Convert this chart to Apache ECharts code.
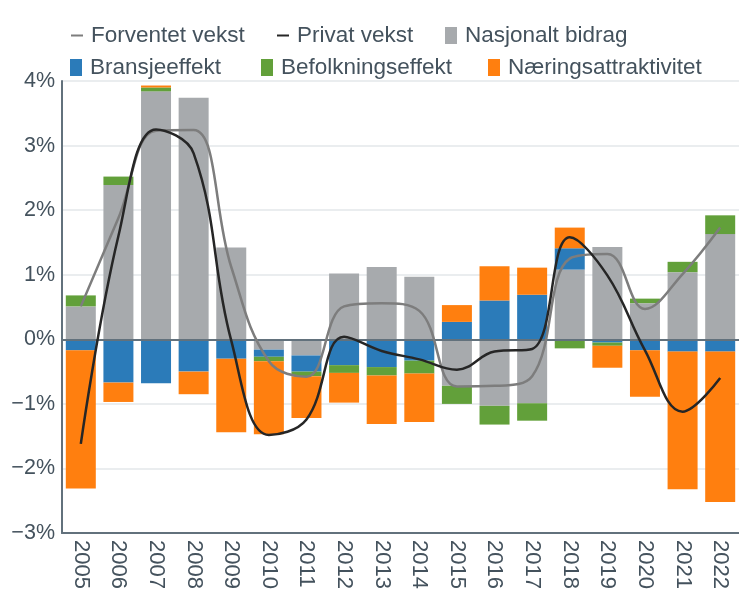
<!DOCTYPE html>
<html><head><meta charset="utf-8">
<script src="https://cdn.jsdelivr.net/npm/echarts@6/dist/echarts.min.js"></script>
<style>html,body{margin:0;padding:0;background:#fff}#c{width:739px;height:592px}</style>
</head><body><div id="c"></div>
<script>
const years = ['2005','2006','2007','2008','2009','2010','2011','2012','2013','2014','2015','2016','2017','2018','2019','2020','2021','2022'];
const nasjonalt = [0.51, 2.39, 3.84, 3.74, 1.42, -0.16, -0.25, 1.02, 1.12, 0.97, -0.72, -1.03, -0.99, 1.08, 1.43, 0.56, 1.04, 1.63];
const bransje = [-0.17, -0.67, -0.68, -0.50, -0.30, -0.11, -0.25, -0.40, -0.43, -0.33, 0.27, 0.60, 0.69, 0.33, -0.05, -0.17, -0.19, -0.19];
const befolkning = [0.17, 0.13, 0.06, 0, 0, -0.07, -0.07, -0.12, -0.13, -0.20, -0.28, -0.29, -0.27, -0.14, -0.05, 0.07, 0.16, 0.29];
const naering = [-2.14, -0.30, 0.03, -0.35, -1.14, -1.13, -0.65, -0.46, -0.75, -0.75, 0.26, 0.53, 0.42, 0.32, -0.34, -0.72, -2.13, -2.33];
const forventet = [0.51, 1.88, 3.23, 3.24, 1.12, -0.34, -0.58, 0.51, 0.56, 0.44, -0.73, -0.72, -0.57, 1.25, 1.32, 0.47, 1.01, 1.73];
const privat = [-1.62, 1.60, 3.25, 2.88, -0.02, -1.48, -1.24, 0.04, -0.18, -0.31, -0.47, -0.19, -0.15, 1.58, 0.99, -0.17, -1.12, -0.60];

const TXT = '#44525d';
const FONT = "'Liberation Sans', Arial, sans-serif";
const AX = '#62717c';
const C = {gray:'#a7aaad', blue:'#2b7bb9', green:'#62a03a', orange:'#ff7f0f', lgray:'#7d7d7d', black:'#262626'};

function lg(name, left, top, isLine) {
  const d = {name: name};
  if (isLine) d.itemStyle = {opacity: 0};
  else d.icon = 'rect';
  return {left: left, top: top, itemWidth: 12, itemHeight: 17, padding: 0,
    data: [d], selectedMode: false,
    textStyle: {fontSize: 22.5, color: TXT, fontFamily: FONT, padding: [0,0,0,3]}};
}

function bar(name, data, color) {
  return {name: name, type: 'bar', stack: 'total', data: data, barWidth: 30,
    itemStyle: {color: color}, emphasis: {disabled: true}};
}

const series = [
  bar('Nasjonalt bidrag', nasjonalt, C.gray),
  bar('Bransjeeffekt', bransje, C.blue),
  bar('Befolkningseffekt', befolkning, C.green),
  bar('Næringsattraktivitet', naering, C.orange),
  {name: 'Forventet vekst', type: 'line', data: forventet, smooth: 0.4, symbol: 'none', z: 5,
    lineStyle: {color: C.lgray, width: 2.5}, itemStyle: {color: C.lgray}},
  {name: 'Privat vekst', type: 'line', data: privat, smooth: 0.4, symbol: 'none', z: 6,
    lineStyle: {color: C.black, width: 2.5}, itemStyle: {color: C.black}}
];
series[3].markLine = {silent: true, symbol: 'none', label: {show: false},
  lineStyle: {color: AX, width: 2, type: 'solid'}, data: [{yAxis: 0}]};

const chart = echarts.init(document.getElementById('c'), null, {renderer: 'canvas'});
chart.setOption({
  animation: false,
  textStyle: {fontFamily: FONT},
  legend: [
    lg('Forventet vekst', 70, 24, true),
    lg('Privat vekst', 276, 24, true),
    lg('Nasjonalt bidrag', 445, 24, false),
    lg('Bransjeeffekt', 70, 56, false),
    lg('Befolkningseffekt', 261, 56, false),
    lg('Næringsattraktivitet', 488, 56, false)
  ],
  grid: {left: 62, top: 81, right: -5, bottom: 56, containLabel: false},
  xAxis: {type: 'category', data: years,
    axisLine: {onZero: false, lineStyle: {color: AX, width: 2}},
    axisTick: {show: false},
    axisLabel: {rotate: -90, fontSize: 22, color: TXT, fontFamily: FONT, margin: 7}},
  yAxis: {type: 'value', min: -3, max: 4, interval: 1,
    axisLine: {show: true, lineStyle: {color: AX, width: 2}},
    axisTick: {show: false},
    splitLine: {lineStyle: {color: '#e3e7ea', width: 1.5}},
    axisLabel: {fontSize: 21.5, color: TXT, fontFamily: FONT, margin: 7,
      formatter: v => (v < 0 ? '\u2212' + Math.abs(v) : v) + '%'}},
  series: series
});
</script></body></html>
